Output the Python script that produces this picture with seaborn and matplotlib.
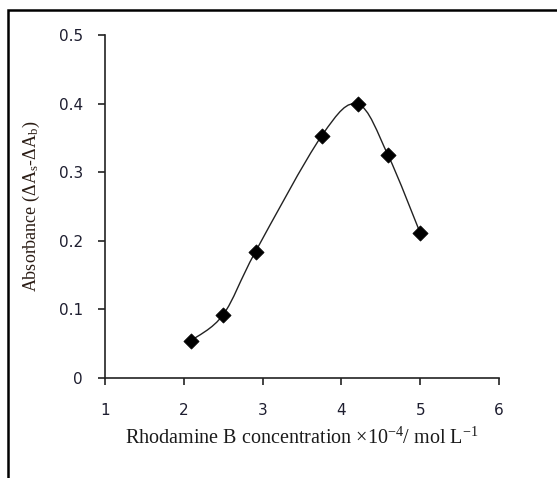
import matplotlib
matplotlib.use("Agg")
import matplotlib.pyplot as plt
from matplotlib.path import Path
from matplotlib.patches import PathPatch, Rectangle
import numpy as np
import pandas as pd
import seaborn as sns

# Data
concentration = [2.09, 2.50, 2.91, 3.75, 4.21, 4.59, 5.00]
absorbance = [0.054, 0.092, 0.184, 0.353, 0.399, 0.325, 0.211]
x_ticks = [1, 2, 3, 4, 5, 6]
y_ticks = [0, 0.1, 0.2, 0.3, 0.4, 0.5]
y_tick_labels = ["0", "0.1", "0.2", "0.3", "0.4", "0.5"]

sns.set_theme(style="ticks")
plt.rcParams["font.family"] = ["DejaVu Sans"]
plt.rcParams["mathtext.fontset"] = "custom"
plt.rcParams["mathtext.rm"] = "Liberation Serif"
plt.rcParams["mathtext.it"] = "Liberation Serif:italic"

df = pd.DataFrame({"conc": concentration, "abs": absorbance})

fig = plt.figure(figsize=(5.57, 4.78), dpi=100)
ax = fig.add_axes([0.1885, 0.2098, 0.7075, 0.717])

# Smooth (Excel-like) curve via cubic Bezier segments through the data points
pts = np.column_stack([df["conc"].values, df["abs"].values])
n = len(pts)
verts = [tuple(pts[0])]
codes = [Path.MOVETO]
for i in range(n - 1):
    p0 = pts[i - 1] if i > 0 else pts[i]
    p1 = pts[i]
    p2 = pts[i + 1]
    p3 = pts[i + 2] if i + 2 < n else pts[i + 1]
    c1 = p1 + (p2 - p0) / 6.0
    c2 = p2 - (p3 - p1) / 6.0
    verts += [tuple(c1), tuple(c2), tuple(p2)]
    codes += [Path.CURVE4] * 3
ax.add_patch(PathPatch(Path(verts, codes), facecolor="none", edgecolor="#222222", lw=1.0, zorder=2))

sns.scatterplot(data=df, x="conc", y="abs", marker="D", s=60, color="black",
                edgecolor="black", linewidth=0.5, ax=ax, zorder=3, legend=False)

ax.set_xlim(1, 6)
ax.set_ylim(0, 0.5)
ax.set_xticks(x_ticks)
ax.set_yticks(y_ticks)
ax.set_yticklabels(y_tick_labels)
for s in ["top", "right"]:
    ax.spines[s].set_visible(False)
for s in ["left", "bottom"]:
    ax.spines[s].set_linewidth(1.2)
    ax.spines[s].set_color("#222222")
ax.tick_params(axis="both", direction="out", length=5, width=1.2, color="#222222",
               labelsize=11, labelcolor="#1e1e30")
ax.tick_params(axis="x", pad=13)
ax.tick_params(axis="y", pad=11)

ax.set_xlabel("Rhodamine B concentration ×10$^{-4}$/ mol L$^{-1}$",
              family="Liberation Serif", fontsize=14.5, color="#1a1a1a", labelpad=7)
ax.set_ylabel("Absorbance (ΔA$_\\mathrm{s}$-ΔA$_\\mathrm{b}$)",
              family="Liberation Serif", fontsize=13, color="#2a1c14", labelpad=12)

# outer frame (partly cropped at right and bottom)
fig.add_artist(Rectangle((8 / 557, -0.05), 1.2, 1 - 10 / 478 + 0.05,
                         transform=fig.transFigure, fill=False, edgecolor="black",
                         lw=1.8, clip_on=False))

fig.savefig("out.png", dpi=100)
